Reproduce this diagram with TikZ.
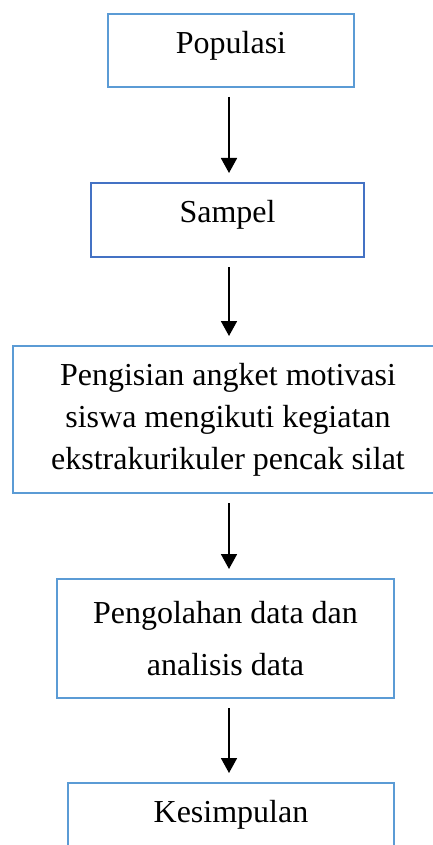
\documentclass[tikz,border=0pt]{standalone}
\usepackage{fontspec}
\setmainfont{Liberation Serif}
\usetikzlibrary{arrows.meta, positioning}
\definecolor{boxblue}{HTML}{5B9BD5}
\definecolor{sampleblue}{HTML}{4472C4}

\begin{document}
\begin{tikzpicture}[
  x=0.5pt, y=-0.5pt,
  stepbox/.style={draw=boxblue, line width=1.3pt, align=center, inner sep=0pt, outer sep=0pt,
                  font=\fontsize{16}{21}\selectfont},
  oneline/.style={text height=11pt, text depth=8pt},
  arr/.style={-{Triangle[length=7.5pt,width=8pt]}, line width=0.9pt, shorten <=5pt, shorten >=5pt},
]
\useasboundingbox (0,0) rectangle (433,845);
\coordinate (axis) at (229,0);

\node[stepbox, oneline, minimum width=123pt, minimum height=36.5pt] (b1) at (231,50.5) {Populasi};
\node[stepbox, oneline, draw=sampleblue, minimum width=136.5pt, minimum height=37pt,
      below=48pt of b1, xshift=-1.75pt] (b2) {Sampel};
\node[stepbox, minimum width=215pt, minimum height=73.5pt,
      below=44.5pt of b2, xshift=0.25pt] (b3)
  {Pengisian angket motivasi\\ siswa mengikuti kegiatan\\ ekstrakurikuler pencak silat};
\node[stepbox, minimum width=168.5pt, minimum height=59.5pt,
      font=\fontsize{16}{26}\selectfont,
      below=43pt of b3, xshift=-1.25pt] (b4)
  {Pengolahan data dan\\ analisis data};
\node[stepbox, oneline, minimum width=163pt, minimum height=36.5pt,
      below=42.5pt of b4, xshift=2.75pt] (b5) {Kesimpulan};

\draw[arr] (b1.south -| axis) -- (b2.north -| axis);
\draw[arr] (b2.south -| axis) -- (b3.north -| axis);
\draw[arr] (b3.south -| axis) -- (b4.north -| axis);
\draw[arr] (b4.south -| axis) -- (b5.north -| axis);
\end{tikzpicture}
\end{document}
